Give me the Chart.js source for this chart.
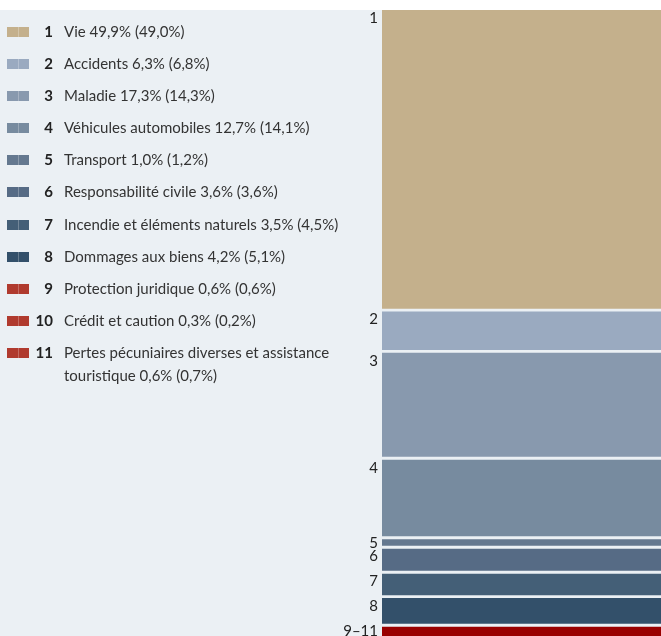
<!DOCTYPE html>
<html>
<head>
<meta charset="utf-8">
<script src="https://cdn.jsdelivr.net/npm/chart.js@4/dist/chart.umd.min.js"></script>
<style>
    body { margin: 0; background: #fff; }
    #wrap { position: relative; width: 661px; height: 636px; overflow: hidden; }
    #chart { position: absolute; left: 0; top: 0; }
    #legend {
        position: absolute; left: 0; top: 10px; width: 360px;
        padding-top: 9.5px;
        font-family: Lato, sans-serif; font-size: 15px; color: #333;
    }
    .item { position: relative; line-height: 23px; margin-bottom: 9.2px; }
    .sw { position: absolute; left: 7px; top: 7px; width: 22px; height: 10px; }
    .sw::after { content: ''; position: absolute; left: 10.5px; top: 0; width: 1px; height: 10px; background: rgba(255,255,255,0.25); }
    .num { position: absolute; left: 30px; width: 23px; text-align: right; font-weight: bold; color: #222; }
    .txt { margin-left: 64px; width: 285px; }
</style>
</head>
<body>
<div id="wrap">
    <canvas id="chart" width="661" height="636"></canvas>
    <div id="legend"></div>
</div>
<script>
// Parts des branches d'assurance (année courante, année précédente entre parenthèses)
const categories = [
    'Vie', 'Accidents', 'Maladie', 'Véhicules automobiles', 'Transport',
    'Responsabilité civile', 'Incendie et éléments naturels', 'Dommages aux biens',
    'Protection juridique', 'Crédit et caution',
    'Pertes pécuniaires diverses et assistance touristique'
];
const shares = [49.9, 6.3, 17.3, 12.7, 1.0, 3.6, 3.5, 4.2, 0.6, 0.3, 0.6];
const sharesPrev = [49.0, 6.8, 14.3, 14.1, 1.2, 3.6, 4.5, 5.1, 0.6, 0.2, 0.7];
const groups = [1, 2, 3, 4, 5, 6, 7, 8, 9, 9, 9];
const barLabels = ['1', '2', '3', '4', '5', '6', '7', '8', '9–11', '', ''];

const barColors = ['#c4b08c', '#9aaac0', '#8899ae', '#778b9f', '#64788f',
    '#566b85', '#445f77', '#33506a', '#990000', '#990000', '#990000'];
const legendColors = ['#c4b08c', '#9aaac0', '#8899ae', '#778b9f', '#64788f',
    '#566b85', '#445f77', '#33506a', '#b03a2e', '#b03a2e', '#b03a2e'];

const GAP = 0.585; // espace blanc entre les groupes, en points de %
const fmt = v => v.toFixed(1).replace('.', ',') + '%';

// segments empilés à la main pour laisser un espace entre les groupes
let cursor = 0;
const ranges = shares.map((v, i) => {
    if (i > 0 && groups[i] !== groups[i - 1]) cursor += GAP;
    const r = [cursor, cursor + v];
    cursor += v;
    return r;
});
const yMax = cursor;

// légende HTML
const legend = document.getElementById('legend');
categories.forEach((c, i) => {
    const row = document.createElement('div');
    row.className = 'item';
    row.innerHTML = '<span class="sw" style="background:' + legendColors[i] + '"></span>' +
        '<span class="num">' + (i + 1) + '</span>' +
        '<div class="txt">' + c + ' ' + fmt(shares[i]) + ' (' + fmt(sharesPrev[i]) + ')</div>';
    legend.appendChild(row);
});

const panelBg = {
    id: 'panelBg',
    beforeDraw(chart) {
        const ctx = chart.ctx;
        ctx.save();
        ctx.fillStyle = '#ebf0f4';
        ctx.fillRect(0, chart.chartArea.top, chart.width, chart.height - chart.chartArea.top);
        ctx.restore();
    }
};

const segmentLabels = {
    id: 'segmentLabels',
    afterDatasetsDraw(chart) {
        const ctx = chart.ctx;
        const area = chart.chartArea;
        const items = [];
        chart.data.datasets.forEach((ds, i) => {
            if (!barLabels[i]) return;
            const el = chart.getDatasetMeta(i).data[0];
            const top = Math.min(el.y, el.base);
            items.push({ text: barLabels[i], y: Math.min(top + 12.5, area.bottom) });
        });
        for (let k = items.length - 2; k >= 0; k--) {
            items[k].y = Math.min(items[k].y, items[k + 1].y - 13);
        }
        ctx.save();
        ctx.font = '15px Lato, sans-serif';
        ctx.fillStyle = '#222';
        ctx.textAlign = 'right';
        ctx.textBaseline = 'alphabetic';
        items.forEach(it => ctx.fillText(it.text, area.left - 4, it.y));
        ctx.restore();
    }
};

new Chart(document.getElementById('chart').getContext('2d'), {
    type: 'bar',
    data: {
        labels: [''],
        datasets: categories.map((c, i) => ({
            label: c,
            data: [ranges[i]],
            backgroundColor: barColors[i],
            borderWidth: 0,
            grouped: false,
            barPercentage: 1,
            categoryPercentage: 1
        }))
    },
    options: {
        responsive: false,
        animation: false,
        layout: { padding: { left: 382, top: 10, right: 0, bottom: 0 } },
        scales: {
            x: { display: false },
            y: { display: false, reverse: true, min: 0, max: yMax }
        },
        plugins: {
            legend: { display: false },
            tooltip: { enabled: false }
        }
    },
    plugins: [panelBg, segmentLabels]
});
</script>
</body>
</html>
